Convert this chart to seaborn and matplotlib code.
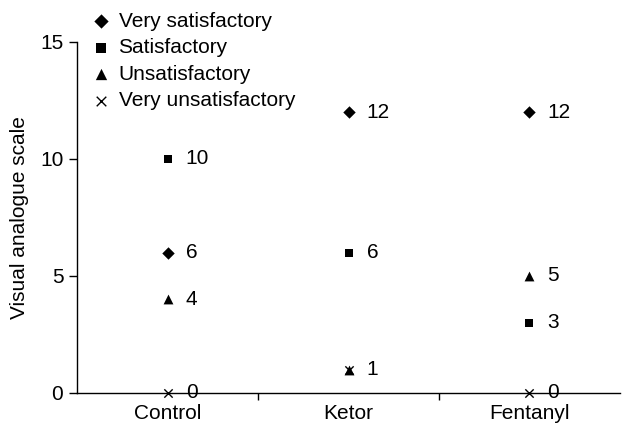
import numpy as np
import pandas as pd
import matplotlib
matplotlib.use("Agg")
from matplotlib import pyplot as plt
import seaborn as sns

groups = ["Control", "Ketor", "Fentanyl"]
series = ["Very satisfactory", "Satisfactory", "Unsatisfactory", "Very unsatisfactory"]
very_satisfactory = [6, 12, 12]
satisfactory = [10, 6, 3]
unsatisfactory = [4, 1, 5]
very_unsatisfactory = [0, 1, 0]

rows = []
for name, vals in zip(series, [very_satisfactory, satisfactory, unsatisfactory, very_unsatisfactory]):
    for i, v in enumerate(vals):
        rows.append({"group": i, "series": name, "value": v})
df = pd.DataFrame(rows)

sns.set_style("ticks", {"text.color": "black", "axes.labelcolor": "black",
                        "xtick.color": "black", "ytick.color": "black",
                        "axes.edgecolor": "black"})
plt.rcParams['font.family'] = ['Liberation Sans', 'DejaVu Sans']
FS = 15

fig = plt.figure(figsize=(6.23, 4.28), dpi=100)
ax = fig.add_axes([0.124, 0.082, 0.871, 0.820])

markers = {"Very satisfactory": "D", "Satisfactory": "s",
           "Unsatisfactory": "^", "Very unsatisfactory": "x"}
sizes = {"Very satisfactory": 40, "Satisfactory": 40,
         "Unsatisfactory": 50, "Very unsatisfactory": 36}

for name in series:
    sub = df[df["series"] == name]
    sns.scatterplot(data=sub, x="group", y="value", marker=markers[name],
                    color="black", s=sizes[name], linewidth=1 if name == "Very unsatisfactory" else 0,
                    edgecolor="black", label=name, ax=ax, clip_on=False, zorder=3)

# value labels (one per distinct point)
seen = set()
for _, r in df.iterrows():
    key = (r["group"], r["value"])
    if key in seen:
        continue
    seen.add(key)
    ax.annotate(str(r["value"]), (r["group"], r["value"]), xytext=(13, 0),
                textcoords="offset points", ha="left", va="center", fontsize=FS,
                color="black", annotation_clip=False, zorder=4)

ax.set_xlim(-0.5, 2.5)
ax.set_ylim(0, 15)
ax.set_yticks([0, 5, 10, 15])
ax.set_xticks([0.5, 1.5])
ax.set_xticks([0, 1, 2], minor=True)
ax.set_xticklabels([])
ax.set_xticklabels(groups, minor=True)
ax.tick_params(axis="x", which="major", direction="out", length=5, width=1)
ax.tick_params(axis="x", which="minor", length=0, labelsize=FS, pad=8)
ax.tick_params(axis="y", direction="out", length=6, width=1, labelsize=FS, pad=4)
ax.set_xlabel("")
ax.set_ylabel("Visual analogue scale", fontsize=FS, labelpad=8)
sns.despine(ax=ax)
for s in ["left", "bottom"]:
    ax.spines[s].set_linewidth(1)
    ax.spines[s].set_color("black")

ax.legend(loc="upper left", bbox_to_anchor=(0.005, 1.11), frameon=False, fontsize=FS,
          handletextpad=0.25, labelspacing=0.36, borderaxespad=0, handlelength=1.2,
          markerscale=1.15, labelcolor="black")

fig.savefig("out.png", dpi=100)
